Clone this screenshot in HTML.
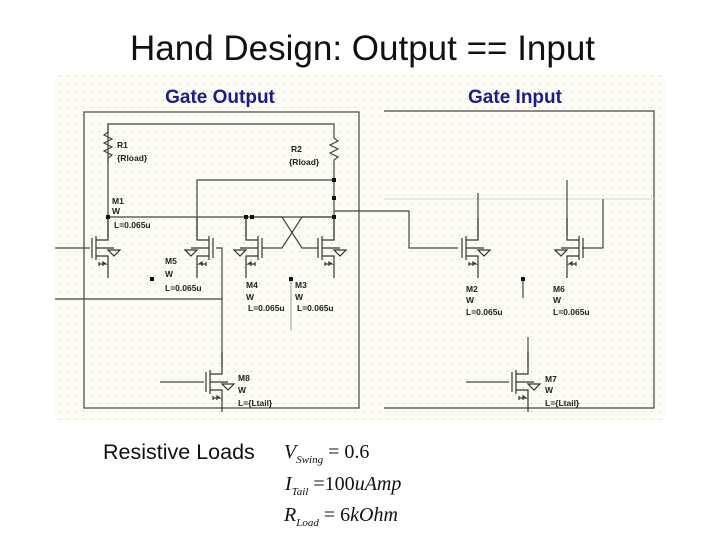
<!DOCTYPE html>
<html><head><meta charset="utf-8"><style>
html,body{margin:0;padding:0;background:#fff;}
body{width:720px;height:540px;overflow:hidden;position:relative;font-family:"Liberation Sans",sans-serif;}
.t{position:absolute;white-space:nowrap;}
</style></head><body>
<div class="t" style="left:130px;top:31px;font-size:35px;line-height:1;color:#111;">Hand Design: Output == Input</div>
<svg style="position:absolute;left:0;top:0" width="720" height="540">
<defs>
<pattern id="g" width="8" height="8" patternUnits="userSpaceOnUse"><rect x="3" y="3" width="1" height="1" fill="#bdbdb0"/></pattern>
<g id="tr" stroke="#333" stroke-width="1.2" fill="none">
<line x1="-4" y1="-10" x2="-4" y2="10"/>
<line x1="0" y1="-12" x2="0" y2="12"/>
<polyline points="0,-8 12,-8 12,-30"/>
<polyline points="0,8 12,8 12,30"/>
<line x1="0" y1="0" x2="18" y2="0"/>
<polygon points="12,2 24,2 18,8"/>
<polyline points="3,14 3,18 3,16 10,16 7,14 7,18"/>
</g>
</defs>
<rect x="55" y="75" width="610" height="345" fill="#fcfcf4"/>
<rect x="55" y="75" width="610" height="345" fill="url(#g)"/>
<g stroke="#444" stroke-width="1.2" fill="none">
<rect x="84" y="112" width="275" height="296"/>
<polyline points="384,111 654,111 654,408 384,408"/>
<line x1="384" y1="199" x2="654" y2="199" stroke="#ddd"/>
<polyline points="108,163 108,124 334,124 334,138"/>
<polyline points="108,124 108,132 104,135 112,139 104,143 112,147 104,151 112,155 108,158 108,237"/>
<polyline points="334,138 338,141 330,145 338,149 330,153 338,157 334,160 334,237"/>
<polyline points="197,237 197,180 334,180"/>
<line x1="108" y1="217" x2="334" y2="217"/>
<polyline points="252,217 282,217 302,248 318,248"/>
<polyline points="334,217 302,217 282,248 262,248"/>
<line x1="246" y1="217" x2="246" y2="237"/>
<polyline points="334,211 409,211 409,248 458,248"/>
<line x1="55" y1="248" x2="90" y2="248"/>
<polyline points="216,248 222,248 222,299 55,299"/>
<line x1="222" y1="299" x2="222" y2="367"/>
<line x1="160" y1="382" x2="204" y2="382"/>
<line x1="291" y1="279" x2="291" y2="330" stroke="#aaa"/>
<line x1="478" y1="193" x2="478" y2="237"/>
<polyline points="567,180 567,236"/>
<polyline points="582,248 603,248 603,199"/>
<line x1="523" y1="279" x2="523" y2="298"/>
<line x1="466" y1="382" x2="509" y2="382"/>
<line x1="528" y1="337" x2="528" y2="367"/>
</g>
<g fill="#111">
<rect x="106" y="215" width="4" height="4"/><rect x="244" y="215" width="4" height="4"/><rect x="250" y="215" width="4" height="4"/>
<rect x="332" y="215" width="4" height="4"/><rect x="332" y="178" width="4" height="4"/><rect x="332" y="196" width="4" height="4"/>
<rect x="150" y="277" width="4" height="4"/><rect x="289" y="277" width="4" height="4"/><rect x="521" y="277" width="4" height="4"/>
</g>
<use href="#tr" x="96" y="248"/>
<use href="#tr" transform="translate(209,248) scale(-1,1)"/>
<use href="#tr" transform="translate(258,248) scale(-1,1)"/>
<use href="#tr" x="322" y="248"/>
<use href="#tr" x="210" y="382"/>
<use href="#tr" x="466" y="248"/>
<use href="#tr" transform="translate(579,248) scale(-1,1)"/>
<use href="#tr" x="516" y="382"/>
<g font-family="Liberation Sans,sans-serif" font-size="8.5" font-weight="bold" fill="#222">
<text x="117" y="148">R1</text><text x="117" y="161">{Rload}</text>
<text x="291" y="152">R2</text><text x="289" y="165">{Rload}</text>
<text x="112" y="204">M1</text><text x="112" y="214">W</text><text x="114" y="228">L=0.065u</text>
<text x="165" y="264">M5</text><text x="165" y="277">W</text><text x="165" y="291">L=0.065u</text>
<text x="246" y="288">M4</text><text x="246" y="300">W</text><text x="248" y="311">L=0.065u</text>
<text x="295" y="288">M3</text><text x="295" y="300">W</text><text x="297" y="311">L=0.065u</text>
<text x="238" y="381">M8</text><text x="238" y="393">W</text><text x="238" y="406">L={Ltail}</text>
<text x="466" y="292">M2</text><text x="466" y="303">W</text><text x="466" y="315">L=0.065u</text>
<text x="553" y="292">M6</text><text x="553" y="303">W</text><text x="553" y="315">L=0.065u</text>
<text x="545" y="382">M7</text><text x="545" y="393">W</text><text x="545" y="406">L={Ltail}</text>
</g>
<g font-family="Liberation Sans,sans-serif" font-size="19" font-weight="bold" fill="#1c1c8a" text-anchor="middle">
<text x="220" y="103">Gate Output</text><text x="515" y="103">Gate Input</text>
</g>
<g font-family="Liberation Serif,serif" font-size="20" fill="#111">
<text x="284" y="458"><tspan font-style="italic">V</tspan><tspan font-size="11" font-style="italic" dy="5">Swing</tspan><tspan dy="-5"> = 0.6</tspan></text>
<text x="285" y="490"><tspan font-style="italic">I</tspan><tspan font-size="11" font-style="italic" dy="5">Tail</tspan><tspan dy="-5"> =100</tspan><tspan font-style="italic">uAmp</tspan></text>
<text x="284" y="521"><tspan font-style="italic">R</tspan><tspan font-size="11" font-style="italic" dy="5">Load</tspan><tspan dy="-5"> = 6</tspan><tspan font-style="italic">kOhm</tspan></text>
</g>
</svg>
<div class="t" style="left:103px;top:440px;font-size:21.5px;color:#111;">Resistive Loads</div>
</body></html>
